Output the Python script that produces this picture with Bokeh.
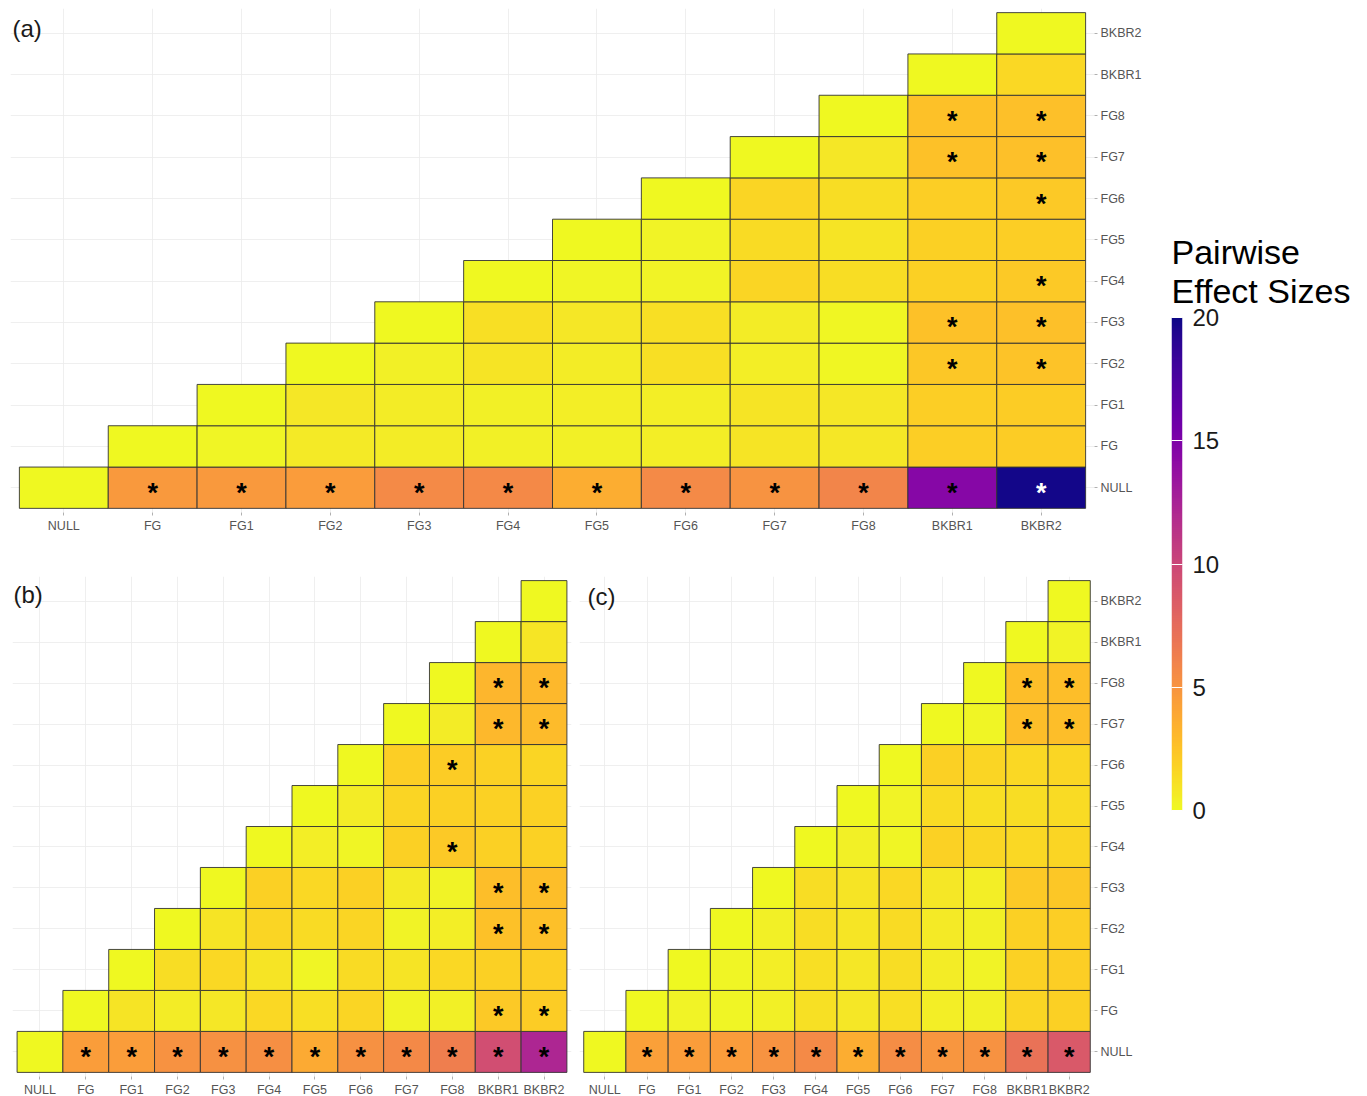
import numpy as np
from bokeh.plotting import figure
from bokeh.models import (ColumnDataSource, LinearColorMapper, FactorRange, Label,
                          Range1d, FixedTicker, Title)
from bokeh.layouts import row, column
from bokeh.palettes import Plasma256
from bokeh.embed import file_html
from bokeh.resources import INLINE
from bokeh.core.properties import value

categories = ["NULL", "FG", "FG1", "FG2", "FG3", "FG4", "FG5", "FG6", "FG7", "FG8", "BKBR1", "BKBR2"]

# each inner list: one y category (row), values for x = categories[row_index:]
a_values = [
    [0, 4.7, 4.7, 4.6, 5.6, 5.7, 3.6, 5.6, 5.0, 5.9, 14.5, 19.8],
    [0, 0.2, 0.7, 0.6, 0.4, 0.4, 0.5, 1.0, 0.8, 2.0, 2.1],
    [0, 0.8, 0.6, 0.4, 0.5, 0.5, 1.0, 0.8, 2.0, 2.1],
    [0, 0.4, 1.0, 0.6, 1.2, 0.5, 0.1, 2.3, 2.5],
    [0, 1.2, 0.8, 1.2, 0.6, 0.1, 2.6, 2.7],
    [0, 0.2, 0.3, 1.7, 1.3, 1.9, 2.2],
    [0, 0.3, 1.4, 1.0, 1.9, 2.0],
    [0, 1.7, 1.3, 2.0, 2.2],
    [0, 0.8, 2.6, 2.7],
    [0, 2.6, 2.7],
    [0, 1.5],
    [0],
]
a_stars = [
    [0, 1, 1, 1, 1, 1, 1, 1, 1, 1, 1, 1],
    [0, 0, 0, 0, 0, 0, 0, 0, 0, 0, 0],
    [0, 0, 0, 0, 0, 0, 0, 0, 0, 0],
    [0, 0, 0, 0, 0, 0, 0, 1, 1],
    [0, 0, 0, 0, 0, 0, 1, 1],
    [0, 0, 0, 0, 0, 0, 1],
    [0, 0, 0, 0, 0, 0],
    [0, 0, 0, 0, 1],
    [0, 0, 1, 1],
    [0, 1, 1],
    [0, 0],
    [0],
]

b_values = [
    [0, 4.5, 4.5, 5.1, 5.2, 5.3, 3.8, 5.2, 5.7, 6.3, 9.5, 12.2],
    [0, 1.0, 0.6, 0.8, 1.5, 1.2, 1.7, 0.3, 0.4, 2.2, 2.1],
    [0, 1.3, 1.5, 1.0, 0.2, 1.4, 1.0, 1.5, 1.9, 2.0],
    [0, 1.0, 1.7, 1.4, 1.7, 0.3, 0.5, 2.6, 2.7],
    [0, 1.9, 1.5, 1.9, 0.7, 0.3, 2.8, 2.8],
    [0, 0.5, 0.2, 1.9, 2.2, 1.9, 1.8],
    [0, 0.6, 1.7, 1.9, 1.8, 1.8],
    [0, 2.0, 2.1, 1.8, 1.7],
    [0, 0.6, 3.1, 2.9],
    [0, 3.2, 3.1],
    [0, 0.9],
    [0],
]
b_stars = [
    [0, 1, 1, 1, 1, 1, 1, 1, 1, 1, 1, 1],
    [0, 0, 0, 0, 0, 0, 0, 0, 0, 1, 1],
    [0, 0, 0, 0, 0, 0, 0, 0, 0, 0],
    [0, 0, 0, 0, 0, 0, 0, 1, 1],
    [0, 0, 0, 0, 0, 0, 1, 1],
    [0, 0, 0, 0, 1, 0, 0],
    [0, 0, 0, 0, 0, 0],
    [0, 0, 1, 0, 0],
    [0, 0, 1, 1],
    [0, 1, 1],
    [0, 0],
    [0],
]

c_values = [
    [0, 4.3, 4.5, 4.6, 5.0, 5.6, 3.6, 5.4, 4.9, 5.1, 7.1, 8.7],
    [0, 0.3, 0.2, 0.4, 1.1, 0.8, 1.2, 0.5, 0.4, 1.7, 1.9],
    [0, 0.2, 0.5, 1.2, 0.8, 1.3, 0.6, 0.3, 1.8, 2.0],
    [0, 0.4, 1.3, 0.9, 1.4, 0.7, 0.4, 1.9, 2.0],
    [0, 1.3, 1.0, 1.5, 0.8, 0.5, 2.2, 2.3],
    [0, 0.4, 0.2, 1.8, 1.6, 1.5, 1.7],
    [0, 0.3, 1.4, 1.2, 1.3, 1.4],
    [0, 1.9, 1.7, 1.5, 1.6],
    [0, 0.2, 2.8, 2.8],
    [0, 2.8, 2.8],
    [0, 0.3],
    [0],
]
c_stars = [
    [0, 1, 1, 1, 1, 1, 1, 1, 1, 1, 1, 1],
    [0, 0, 0, 0, 0, 0, 0, 0, 0, 0, 0],
    [0, 0, 0, 0, 0, 0, 0, 0, 0, 0],
    [0, 0, 0, 0, 0, 0, 0, 0, 0],
    [0, 0, 0, 0, 0, 0, 0, 0],
    [0, 0, 0, 0, 0, 0, 0],
    [0, 0, 0, 0, 0, 0],
    [0, 0, 0, 0, 0],
    [0, 0, 1, 1],
    [0, 1, 1],
    [0, 0],
    [0],
]

cbar_low = 0
cbar_high = 20
cbar_ticks = [0, 5, 10, 15, 20]
cbar_title = "Pairwise\nEffect Sizes"
panel_tags = ["(a)", "(b)", "(c)"]

FONT = "Liberation Sans"
mapper = LinearColorMapper(palette=list(reversed(Plasma256)), low=cbar_low, high=cbar_high)


def build_source(values, stars):
    xs, ys, vs = [], [], []
    sx, sy, sc = [], [], []
    for i, rowvals in enumerate(values):
        for k, v in enumerate(rowvals):
            x = categories[i + k]
            y = categories[i]
            xs.append(x); ys.append(y); vs.append(v)
            if stars[i][k]:
                sx.append(x); sy.append(y)
                sc.append("white" if v > 17 else "black")
    tiles = ColumnDataSource(dict(x=xs, y=ys, v=vs))
    marks = ColumnDataSource(dict(x=sx, y=sy, t=["*"] * len(sx), c=sc))
    return tiles, marks


def make_panel(values, stars, tag, tag_xy, fw, fh, show_y, mbl, mbr, mbt, mbb):
    tiles, marks = build_source(values, stars)
    p = figure(
        x_range=FactorRange(factors=categories, range_padding=0.1, range_padding_units="absolute"),
        y_range=FactorRange(factors=categories, range_padding=0.1, range_padding_units="absolute"),
        frame_width=fw, frame_height=fh,
        min_border_left=mbl, min_border_right=mbr, min_border_top=mbt, min_border_bottom=mbb,
        toolbar_location=None, output_backend="svg",
        y_axis_location="right" if show_y else None,
        outline_line_color=None, background_fill_color="white",
        border_fill_color="white",
    )
    p.rect(x="x", y="y", width=1, height=1, source=tiles,
           fill_color={"field": "v", "transform": mapper},
           line_color="#333333", line_width=0.9)
    p.text(x="x", y="y", text="t", source=marks, text_color="c",
           text_font=value(FONT), text_font_size="27px", text_font_style="bold",
           text_align="center", text_baseline="alphabetic", y_offset=5)
    p.grid.grid_line_color = "#ebebeb"
    p.grid.grid_line_width = 0.8
    for ax in p.axis:
        ax.axis_line_color = None
        ax.major_tick_line_color = "#b0b0b0"
        ax.major_tick_out = 3
        ax.major_tick_in = 0
        ax.minor_tick_line_color = None
        ax.major_label_text_font = FONT
        ax.major_label_text_font_size = "12.5px"
        ax.major_label_text_color = "#555555"
        ax.major_label_standoff = 3
    p.add_layout(Label(x=tag_xy[0], y=tag_xy[1], text=tag, text_font=FONT,
                       text_font_size="24px", text_color="#1a1a1a",
                       text_baseline="top", text_align="left"))
    return p


pa = make_panel(a_values, a_stars, panel_tags[0], (-0.078, 11.95), 1084, 504, True,
                10, 60, 8, 30)
pb = make_panel(b_values, b_stars, panel_tags[1], (-0.08, 12.0), 559, 500, False,
                12, 4, 34, 20)
pc = make_panel(c_values, c_stars, panel_tags[2], (0.09, 11.95), 515, 500, True,
                4, 60, 34, 20)

# colour bar
cb = figure(x_range=Range1d(0, 1), y_range=Range1d(cbar_low, cbar_high),
            frame_width=11, frame_height=493,
            min_border_left=17, min_border_right=175, min_border_top=317, min_border_bottom=40,
            toolbar_location=None, output_backend="svg",
            x_axis_location=None, y_axis_location="right",
            outline_line_color=None, background_fill_color="white")
grad = np.linspace(cbar_low, cbar_high, 256).reshape(-1, 1)
cb.image(image=[grad], x=0, y=cbar_low, dw=1, dh=cbar_high - cbar_low, color_mapper=mapper)
cb.grid.visible = False
yax = cb.yaxis[0]
yax.ticker = FixedTicker(ticks=cbar_ticks)
yax.axis_line_color = None
yax.major_tick_in = 11
yax.major_tick_out = 0
yax.major_tick_line_color = "white"
yax.major_tick_line_width = 1
yax.minor_tick_line_color = None
yax.major_label_text_font = FONT
yax.major_label_text_font_size = "24px"
yax.major_label_text_color = "#1a1a1a"
yax.major_label_standoff = 10
cb.add_layout(Title(text=cbar_title, text_font=FONT, text_font_size="34px",
                    text_font_style="normal", text_color="black", align="left",
                    text_line_height=1.05, standoff=14), "above")

layout = row(column(pa, row(pb, pc)), cb)
open("out.html", "w").write(file_html(layout, INLINE))
